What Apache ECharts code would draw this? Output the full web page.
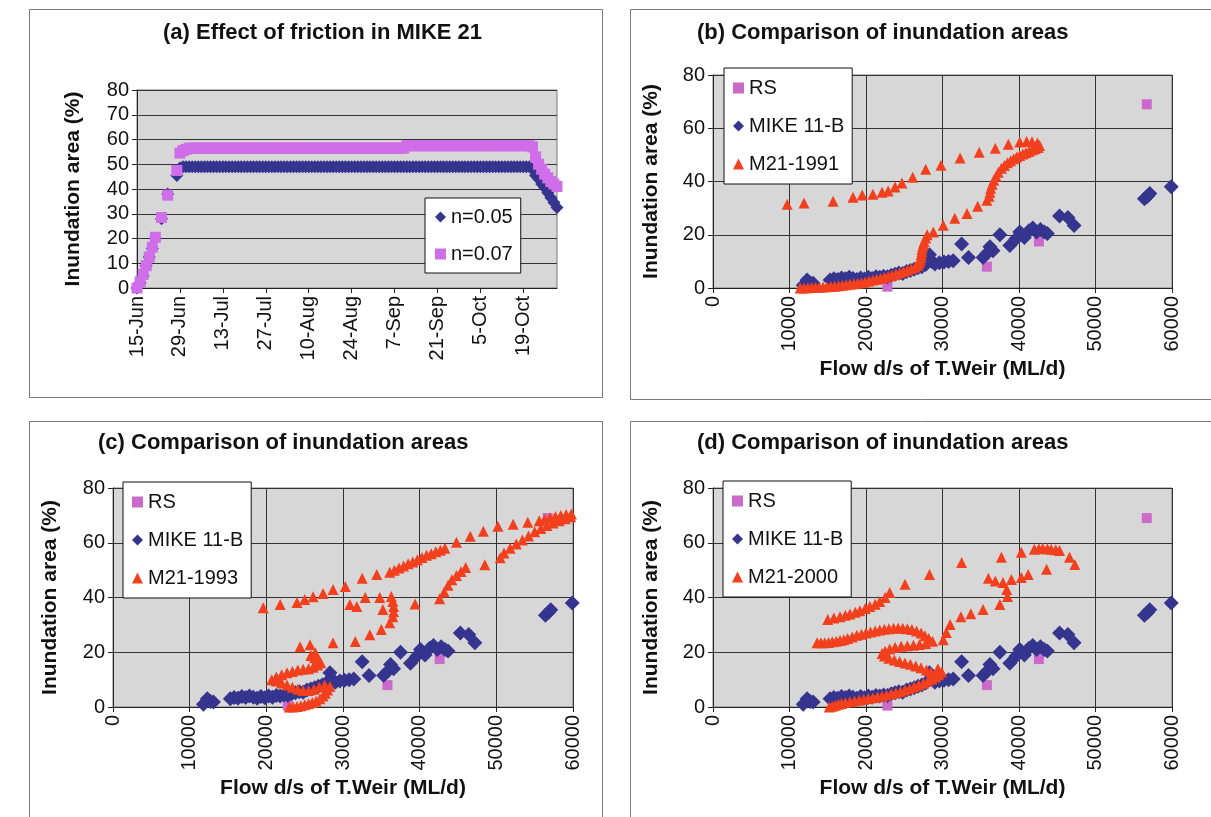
<!DOCTYPE html>
<html>
<head>
<meta charset="utf-8">
<script src="https://cdn.jsdelivr.net/npm/echarts@6/dist/echarts.min.js"></script>
<style>
html,body{margin:0;padding:0;background:#fff;}
#chart{width:1211px;height:817px;}
</style>
</head>
<body>
<div id="chart"></div>
<script>
// ---------------- DATA ----------------
const titles = ['(a) Effect of friction in MIKE 21', '(b) Comparison of inundation areas', '(c) Comparison of inundation areas', '(d) Comparison of inundation areas'];
const yTitle = 'Inundation area (%)';
const xTitle = 'Flow d/s of T.Weir (ML/d)';

const dateLabels = [
 '15-Jun','16-Jun','17-Jun','18-Jun','19-Jun','20-Jun','21-Jun','22-Jun','23-Jun','24-Jun','25-Jun','26-Jun','27-Jun','28-Jun','29-Jun','30-Jun',
 '1-Jul','2-Jul','3-Jul','4-Jul','5-Jul','6-Jul','7-Jul','8-Jul','9-Jul','10-Jul','11-Jul','12-Jul','13-Jul','14-Jul','15-Jul','16-Jul','17-Jul','18-Jul','19-Jul','20-Jul','21-Jul','22-Jul','23-Jul','24-Jul','25-Jul','26-Jul','27-Jul','28-Jul','29-Jul','30-Jul','31-Jul',
 '1-Aug','2-Aug','3-Aug','4-Aug','5-Aug','6-Aug','7-Aug','8-Aug','9-Aug','10-Aug','11-Aug','12-Aug','13-Aug','14-Aug','15-Aug','16-Aug','17-Aug','18-Aug','19-Aug','20-Aug','21-Aug','22-Aug','23-Aug','24-Aug','25-Aug','26-Aug','27-Aug','28-Aug','29-Aug','30-Aug','31-Aug',
 '1-Sep','2-Sep','3-Sep','4-Sep','5-Sep','6-Sep','7-Sep','8-Sep','9-Sep','10-Sep','11-Sep','12-Sep','13-Sep','14-Sep','15-Sep','16-Sep','17-Sep','18-Sep','19-Sep','20-Sep','21-Sep','22-Sep','23-Sep','24-Sep','25-Sep','26-Sep','27-Sep','28-Sep','29-Sep','30-Sep',
 '1-Oct','2-Oct','3-Oct','4-Oct','5-Oct','6-Oct','7-Oct','8-Oct','9-Oct','10-Oct','11-Oct','12-Oct','13-Oct','14-Oct','15-Oct','16-Oct','17-Oct','18-Oct','19-Oct','20-Oct','21-Oct','22-Oct','23-Oct','24-Oct','25-Oct','26-Oct','27-Oct','28-Oct','29-Oct','30-Oct'
];

// n = 0.05 (138 daily values)
const n005 = [
 0,2,5,9,12.5,16,20,null,28,null,38,null,null,45.5,48.5,
 49,49,49,49,49,49,49,49,49,49,49,49,49,49,49,49,49,49,49,49,
 49,49,49,49,49,49,49,49,49,49,49,49,49,49,49,49,49,49,49,49,
 49,49,49,49,49,49,49,49,49,49,49,49,49,49,49,49,49,49,49,49,
 49,49,49,49,49,49,49,49,49,49,49,49,49,49,49,49,49,49,49,49,
 49,49,49,49,49,49,49,49,49,49,49,49,49,49,49,49,49,49,49,49,
 49,49,49,49,49,49,49,49,49,49,49,49,49,49,
 48,45.5,44,42,40.5,38.5,36.5,34.5,32.5
];
// n = 0.07 (138 daily values)
const n007 = [
 0,2.5,5.5,9,12.5,16.5,20.5,null,28.5,null,37.5,null,null,47.5,54.5,
 55.5,56,56.5,56.5,56.5,56.5,56.5,56.5,56.5,56.5,56.5,56.5,56.5,56.5,56.5,56.5,56.5,56.5,56.5,56.5,
 56.5,56.5,56.5,56.5,56.5,56.5,56.5,56.5,56.5,56.5,56.5,56.5,56.5,56.5,56.5,56.5,56.5,56.5,56.5,56.5,
 56.5,56.5,56.5,56.5,56.5,56.5,56.5,56.5,56.5,56.5,56.5,56.5,56.5,56.5,56.5,56.5,56.5,56.5,56.5,56.5,
 56.5,56.5,56.5,56.5,56.5,56.5,56.5,56.5,56.5,56.5,56.5,56.5,56.5,
 57.5,57.5,57.5,57.5,57.5,57.5,57.5,57.5,57.5,57.5,57.5,57.5,57.5,57.5,57.5,57.5,57.5,57.5,57.5,57.5,
 57.5,57.5,57.5,57.5,57.5,57.5,57.5,57.5,57.5,57.5,57.5,57.5,57.5,57.5,57.5,57.5,57.5,57.5,57.5,57.5,57.5,
 57,53,50,48,46,44.5,43,42,41
];

// Remote sensing observations [flow ML/d, inundation %]
const rsPts = [[22800,0.5],[35800,8],[42600,17.5],[56700,69]];

// MIKE 11-B results [flow, %]
const mike11b = [
 [11800,1],[12300,3],[12700,2],[13100,1.8],[15300,3],[15800,3.5],[16300,3.2],[16800,3.8],[17300,3.5],[17800,4],
 [18300,3.6],[18800,3.2],[19300,3.8],[19800,3.4],[20300,4],[20800,3.6],[21300,4.2],[21800,4],[22300,4.4],[22800,4.2],
 [23300,4.8],[23800,5.2],[24300,5.6],[24800,5.4],[25300,6.2],[25800,6.6],[26300,7],[26800,7.6],[27300,8],[27800,8.8],
 [28300,12.5],[28600,10],[29000,9],[29600,9.5],[30200,9.8],[30800,10],[31400,10.2],[32500,16.5],[33400,11.5],[35300,11.5],
 [35800,13],[36200,15.5],[36600,14],[37500,20],[38800,16],[39600,18.5],[40100,21],[40700,19],[41300,21.5],[41800,22.5],
 [42300,21],[42800,22],[43300,21],[43700,20.5],[45300,27],[46400,26.5],[47200,23.5],[56400,33.5],[56800,34.5],[57100,35.5],
 [59900,38]
];

// MIKE 21 results, 1991 DEM
const m21_1991 = [
 [11400,0],[11900,0],[12400,0.1],[12900,0.2],[13400,0.3],[13900,0.3],[14400,0.4],[14900,0.5],[15400,0.6],[15900,0.7],
 [16400,0.8],[16900,1],[17400,1.2],[17900,1.4],[18400,1.6],[18900,1.8],[19400,2],[19900,2.3],[20400,2.6],[20900,3],
 [21400,3.3],[21900,3.6],[22400,4],[22900,4.4],[23400,4.8],[23900,5.3],[24400,5.7],[24900,6.2],[25400,6.7],[25900,7.2],
 [26400,7.8],[26800,8.5],[27000,9.5],[27100,10.5],[27200,11.5],[27200,12.5],[27300,13.5],[27300,14.5],[27400,15.5],[27500,16.5],
 [27600,17.5],[27800,18.8],[28000,20],[28800,21],[30100,23.6],[31600,26.2],[33200,28],[34600,30.7],[35800,33],[36100,34.5],
 [36200,36],[36300,37.5],[36500,39],[36700,40.5],[37000,42],[37300,43.5],[37700,45],[38100,46],[38500,47],[38900,47.8],
 [39300,48.5],[39700,49.2],[40100,49.8],[40500,50.3],[40900,50.8],[41300,51.3],[41700,51.8],[42100,52.3],[42500,52.8],[42700,53.5],
 [42400,54.5],[41700,54.9],[41000,55],[40100,54.8],[38600,54],[36900,52.5],[34800,51],[32300,48.8],[29800,46.1],[27800,44.6],
 [26100,41.6],[24700,39.4],[23800,37.9],[22900,36.4],[22100,36],[20900,35.2],[19500,34.9],[18300,34.1],[15700,32.6],[11900,31.9],
 [9700,31.5]
];

// MIKE 21 results, 1993 DEM
const m21_1993 = [
 [23000,0],[23500,0],[24000,0.2],[24500,0.5],[25000,0.8],[25500,1.2],[26000,1.6],[26500,2.2],[27000,3],[27400,4],
 [27700,5],[28000,6.2],[28300,7.5],[27600,8],[26900,7.3],[26200,6.5],[25500,6],[24800,6],[24100,6.5],[23400,7.2],
 [22700,8],[22000,8.8],[21300,9.5],[20700,10],[21300,11],[22000,11.8],[22700,12.5],[23400,13],[24100,13.5],[24800,13.8],
 [25500,14],[26100,14.5],[26700,15.3],[27100,16.2],[26800,17.2],[26300,18],[25800,18.8],[26400,19.8],[24400,22],[25700,22.7],
 [28700,23.5],[31600,23.9],[33500,26.4],[35000,28.3],[36100,30.8],[36500,33],[36600,34.8],[36600,36.7],[36500,38.5],[36300,40.4],
 [35200,35.6],[34800,40],[32900,40],[31800,36.7],[30900,37.4],
 [19600,36.3],[21800,37.4],[24000,38.2],[25000,39.3],[26100,40.3],[27400,41.5],[28700,42.9],[30300,44],[32500,47],[34400,48.4],
 [36100,49.2],[36700,50],[37300,50.8],[37900,51.5],[38500,52.3],[39100,53],[39700,53.8],[40300,54.6],[40900,55.4],[41500,56],
 [42100,56.7],[42700,57.3],[43300,58],[44800,60.2],[46600,62.4],[48300,64.2],[50200,66],[52200,66.8],[54100,67.5],[55600,68],
 [56300,68.6],[57000,69.1],[57700,69.6],[58400,70],[59100,70.3],[59800,70.5],
 [59700,69.5],[59000,68.8],[58200,68],[57400,67.2],[56600,66.3],[55800,65.2],[55000,64],[54200,62.5],[53400,61],[52600,59.5],
 [51800,58],[51000,56.3],[50500,54.5],[48500,52],[46000,51],[45400,49.5],[44800,48],[44200,46.5],[43700,44.5],[43200,42],
 [42600,39.5],[39400,37.6]
];

// MIKE 21 results, 2000 DEM
const m21_2000 = [
 [15200,0],[15600,0.3],[16000,0.6],[16400,1],[16800,1.3],[17300,1.6],[17900,1.9],[18500,2.2],[19100,2.5],[19700,2.8],
 [20300,3.1],[20900,3.4],[21500,3.7],[22100,4],[22700,4.4],[23300,4.8],[23900,5.2],[24500,5.7],[25100,6.2],[25700,6.8],
 [26300,7.4],[26900,8],[27500,8.7],[28100,9.4],[28600,10.2],[29100,11],[29500,11.8],[29900,12.8],[29400,14],
 [13600,23.5],[14100,23.5],[14600,23.5],[15100,23.6],[15600,23.8],[16100,24],[16600,24.3],[17100,24.6],[17600,25],[18200,25.6],
 [18800,26.2],[19400,26.6],[20000,27],[20600,27.4],[21200,27.8],[21800,28.1],[22400,28.4],[23000,28.6],[23600,28.8],[24200,28.9],
 [24800,28.8],[25400,28.6],[26000,28.3],[26600,27.8],[27200,27],[27700,26],[28200,25],[28700,24],
 [27800,23.2],[27000,22.8],[26200,22.6],[25400,22.4],[24600,22.2],[23800,21.8],[23100,21.2],[22500,20.4],[22100,19.5],[22400,18.6],
 [23000,17.8],[23700,17.2],[24400,16.6],[25100,16.1],[25800,15.6],[26500,15],[27200,14.3],[27900,13.5],[28500,12.7],[29000,11.8],
 [30100,24.6],[30500,27.2],[31000,30.1],[32400,33],[33700,34.1],[35300,35.6],[37500,37.4],[38500,40.4],[38400,42.9],[37900,45.5],
 [36900,46],[36000,47],[39000,46.6],[40300,47.3],[41200,48.4],[43600,50.3],
 [15000,32],[15800,32.5],[16600,33],[17300,33.5],[17900,34],[18600,34.6],[19200,35.2],[19900,36],[20500,36.7],[21200,37.5],
 [21800,38.5],[22500,40],[23100,41.8],[25100,44.8],[28300,48.4],[32500,52.8],[37700,54.7],[40300,56.5],[42000,57.6],[42600,57.8],
 [43100,58],[43700,57.8],[44200,57.6],[44800,57.4],[45300,57.2],[46600,54.7],[47300,52.1]
];
const m21Names = ['M21-1991', 'M21-1993', 'M21-2000'];
const m21Data = [m21_1991, m21_1993, m21_2000];

// ---------------- STYLE ----------------
const FONT = '"Liberation Sans", Arial, sans-serif';
const NAVY = '#35358F', VIOLET = '#D06EEA', PINK = '#CC6ACC', RED = '#F2401E';
const PLOT_BG = '#D7D7D7', GRIDLINE = '#333333', TXT = '#111';

const grids = [
  {left:137, top:90, width:420, height:198},
  {left:713, top:75, width:459, height:213},
  {left:113, top:488, width:460, height:219},
  {left:713, top:488, width:459, height:219}
].map(g => Object.assign(g, {show:true, backgroundColor:PLOT_BG, borderColor:'#7a7a7a', borderWidth:1}));

const tickLbl = {fontSize:20, fontFamily:FONT, color:TXT};
const nameTS = {fontSize:21, fontWeight:'bold', fontFamily:FONT, color:TXT};
const axisLine = {show:true, lineStyle:{color:'#222', width:1}};
const axisTick = {show:true, length:5, lineStyle:{color:'#222'}};

const xAxes = [{
  gridIndex:0, type:'category', data:dateLabels, boundaryGap:false,
  axisLine, axisTick:Object.assign({interval:13}, axisTick),
  axisLabel:Object.assign({interval:13, rotate:90, margin:8}, tickLbl),
  splitLine:{show:false}
}];
const yAxes = [{
  gridIndex:0, type:'value', min:0, max:80, interval:10,
  axisLine, axisTick, axisLabel:Object.assign({margin:8}, tickLbl),
  splitLine:{show:true, lineStyle:{color:GRIDLINE, width:1}},
  name:yTitle, nameLocation:'middle', nameGap:53, nameTextStyle:nameTS
}];
const yNameGaps = [51, 52, 51];
for (let i = 1; i <= 3; i++) {
  xAxes.push({
    gridIndex:i, type:'value', min:0, max:60000, interval:10000,
    axisLine, axisTick, axisLabel:Object.assign({rotate:90, margin:8, formatter:v => String(v)}, tickLbl),
    splitLine:{show:true, lineStyle:{color:GRIDLINE, width:1}},
    name:xTitle, nameLocation:'middle', nameGap:71, nameTextStyle:nameTS
  });
  yAxes.push({
    gridIndex:i, type:'value', min:0, max:80, interval:20,
    axisLine, axisTick, axisLabel:Object.assign({margin:8}, tickLbl),
    splitLine:{show:true, lineStyle:{color:GRIDLINE, width:1}},
    name:yTitle, nameLocation:'middle', nameGap:yNameGaps[i-1], nameTextStyle:nameTS
  });
}

const series = [
  {name:'n=0.05', type:'line', xAxisIndex:0, yAxisIndex:0, data:n005, showSymbol:true, showAllSymbol:true,
   symbol:'diamond', symbolSize:13, lineStyle:{width:0, opacity:0}, itemStyle:{color:NAVY, borderWidth:0},
   connectNulls:false, animation:false},
  {name:'n=0.07', type:'line', xAxisIndex:0, yAxisIndex:0, data:n007, showSymbol:true, showAllSymbol:true,
   symbol:'rect', symbolSize:11, lineStyle:{width:0, opacity:0}, itemStyle:{color:VIOLET, borderWidth:0},
   connectNulls:false, animation:false}
];
for (let i = 1; i <= 3; i++) {
  series.push({name:'RS', type:'scatter', xAxisIndex:i, yAxisIndex:i, data:rsPts, symbol:'rect', symbolSize:10,
    itemStyle:{color:PINK, opacity:1}, animation:false});
  series.push({name:'MIKE 11-B', type:'scatter', xAxisIndex:i, yAxisIndex:i, data:mike11b, symbol:'diamond', symbolSize:15,
    itemStyle:{color:NAVY, opacity:1}, animation:false});
  series.push({name:m21Names[i-1], type:'scatter', xAxisIndex:i, yAxisIndex:i, data:m21Data[i-1], symbol:'triangle', symbolSize:11,
    itemStyle:{color:RED, opacity:1}, animation:false});
}

function legendBox(left, top, items, gap, pad) {
  return {
    left, top, orient:'vertical', itemGap:gap, itemWidth:11, itemHeight:11,
    padding:pad, backgroundColor:'#fff', borderColor:'#111', borderWidth:1,
    textStyle:{fontSize:20, fontFamily:FONT, color:TXT, lineHeight:20},
    selectedMode:false, data:items, z:10
  };
}
const legends = [
  legendBox(425, 198, [{name:'n=0.05', icon:'diamond'}, {name:'n=0.07', icon:'rect'}], 17, [9,8,9,10]),
  legendBox(724, 68, [{name:'RS', icon:'rect'}, {name:'MIKE 11-B', icon:'diamond'}, {name:'M21-1991', icon:'triangle'}], 18, [10,8,10,9]),
  legendBox(123, 482, [{name:'RS', icon:'rect'}, {name:'MIKE 11-B', icon:'diamond'}, {name:'M21-1993', icon:'triangle'}], 18, [10,8,10,9]),
  legendBox(723, 481, [{name:'RS', icon:'rect'}, {name:'MIKE 11-B', icon:'diamond'}, {name:'M21-2000', icon:'triangle'}], 18, [10,8,10,9])
];

const titleTS = {fontSize:22, fontWeight:'bold', fontFamily:FONT, color:TXT};
const titlePos = [[163,22],[697,22],[98,432],[697,432]];
const titleOpts = titles.map((t, i) => ({text:t, left:titlePos[i][0], top:titlePos[i][1], padding:0, textStyle:titleTS}));

const panelBorder = (x, y, w, h) => ({type:'rect', silent:true, z:0,
  shape:{x, y, width:w, height:h}, style:{fill:'none', stroke:'#7a7a7a', lineWidth:1}});

const chart = echarts.init(document.getElementById('chart'), null, {renderer:'canvas'});
chart.setOption({
  backgroundColor:'#fff',
  animation:false,
  textStyle:{fontFamily:FONT},
  title:titleOpts,
  legend:legends,
  grid:grids,
  xAxis:xAxes,
  yAxis:yAxes,
  series,
  graphic:[
    panelBorder(29.5, 9.5, 573, 388),
    panelBorder(630.5, 9.5, 600, 390),
    panelBorder(29.5, 421.5, 573, 420),
    panelBorder(630.5, 421.5, 600, 420)
  ]
});
</script>
</body>
</html>
